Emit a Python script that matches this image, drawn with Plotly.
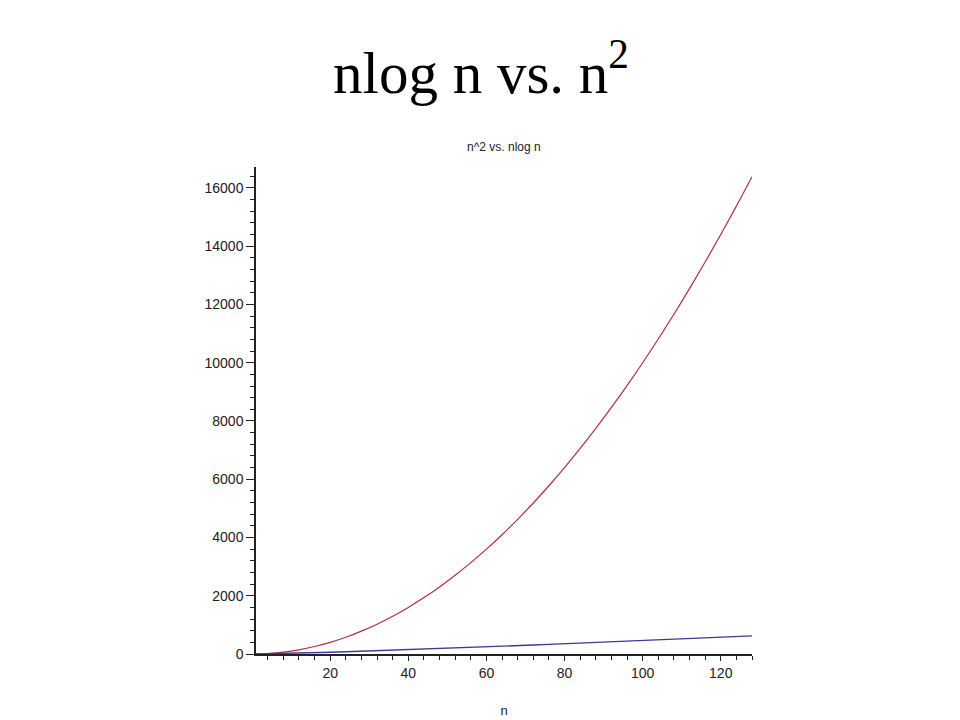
import plotly.graph_objects as go

# Values
n_values = [1, 4, 8, 12, 16, 20, 24, 28, 32, 36, 40, 44, 48, 52, 56, 60, 64,
            68, 72, 76, 80, 84, 88, 92, 96, 100, 104, 108, 112, 116, 120, 124, 128]
n_squared = [1, 16, 64, 144, 256, 400, 576, 784, 1024, 1296, 1600, 1936, 2304,
             2704, 3136, 3600, 4096, 4624, 5184, 5776, 6400, 7056, 7744, 8464,
             9216, 10000, 10816, 11664, 12544, 13456, 14400, 15376, 16384]
n_log_n = [0, 5.5, 16.6, 29.8, 44.4, 59.9, 76.3, 93.3, 110.9, 129.0, 147.6,
           166.5, 185.8, 205.5, 225.4, 245.7, 266.2, 286.9, 307.9, 329.1, 350.6,
           372.2, 394.0, 416.0, 438.2, 460.5, 483.0, 505.7, 528.5, 551.4, 574.5,
           597.7, 621.1]
x_ticks = [20, 40, 60, 80, 100, 120]
y_ticks = [0, 2000, 4000, 6000, 8000, 10000, 12000, 14000, 16000]
y_tick_labels = ["0", "2000", "4000", "6000", "8000", "10000", "12000", "14000", "16000"]

fig = go.Figure()
fig.add_trace(go.Scatter(x=n_values, y=n_squared, mode="lines",
                         line=dict(color="#b0303a", width=1.2, shape="spline"),
                         name="n^2", showlegend=False))
fig.add_trace(go.Scatter(x=n_values, y=n_log_n, mode="lines",
                         line=dict(color="#3a3a98", width=1.4),
                         name="nlog n", showlegend=False))

fig.update_layout(
    width=960, height=720,
    paper_bgcolor="white", plot_bgcolor="white",
    margin=dict(l=248, r=216, t=159, b=74, autoexpand=False),
    title=dict(text="nlog n vs. n<sup>2</sup>", x=473 / 960, xref="container",
               xanchor="center", y=1 - 64 / 720, yref="container",
               yanchor="middle",
               font=dict(family="Liberation Serif", size=59, color="black")),
    font=dict(family="Liberation Sans", color="#222"),
)
fig.add_annotation(text="n^2 vs. nlog n", xref="paper", yref="paper",
                   x=0.5, y=1, yshift=20, showarrow=False, yanchor="middle",
                   font=dict(family="Liberation Sans", size=12, color="#222"))

fig.update_xaxes(range=[1, 128], tickvals=x_ticks, ticks="outside", ticklen=5,
                 tickwidth=1, tickcolor="#222", showline=True, linecolor="#222",
                 linewidth=1.5, showgrid=False, zeroline=False,
                 tickfont=dict(size=14, color="#222"),
                 minor=dict(dtick=4, tick0=0, ticks="outside", ticklen=4,
                            tickcolor="#222", showgrid=False),
                 title=dict(text="n", font=dict(size=13, color="#222"), standoff=26))
fig.update_yaxes(range=[0, 16720], tickvals=y_ticks, ticktext=y_tick_labels,
                 ticks="outside", ticklen=8,
                 tickwidth=1, tickcolor="#222", showline=True, linecolor="#222",
                 linewidth=1.5, showgrid=False, zeroline=False,
                 tickfont=dict(size=14, color="#222"),
                 minor=dict(dtick=400, tick0=0, ticks="outside", ticklen=4,
                            tickcolor="#222", showgrid=False))

fig.write_html("out.html")
